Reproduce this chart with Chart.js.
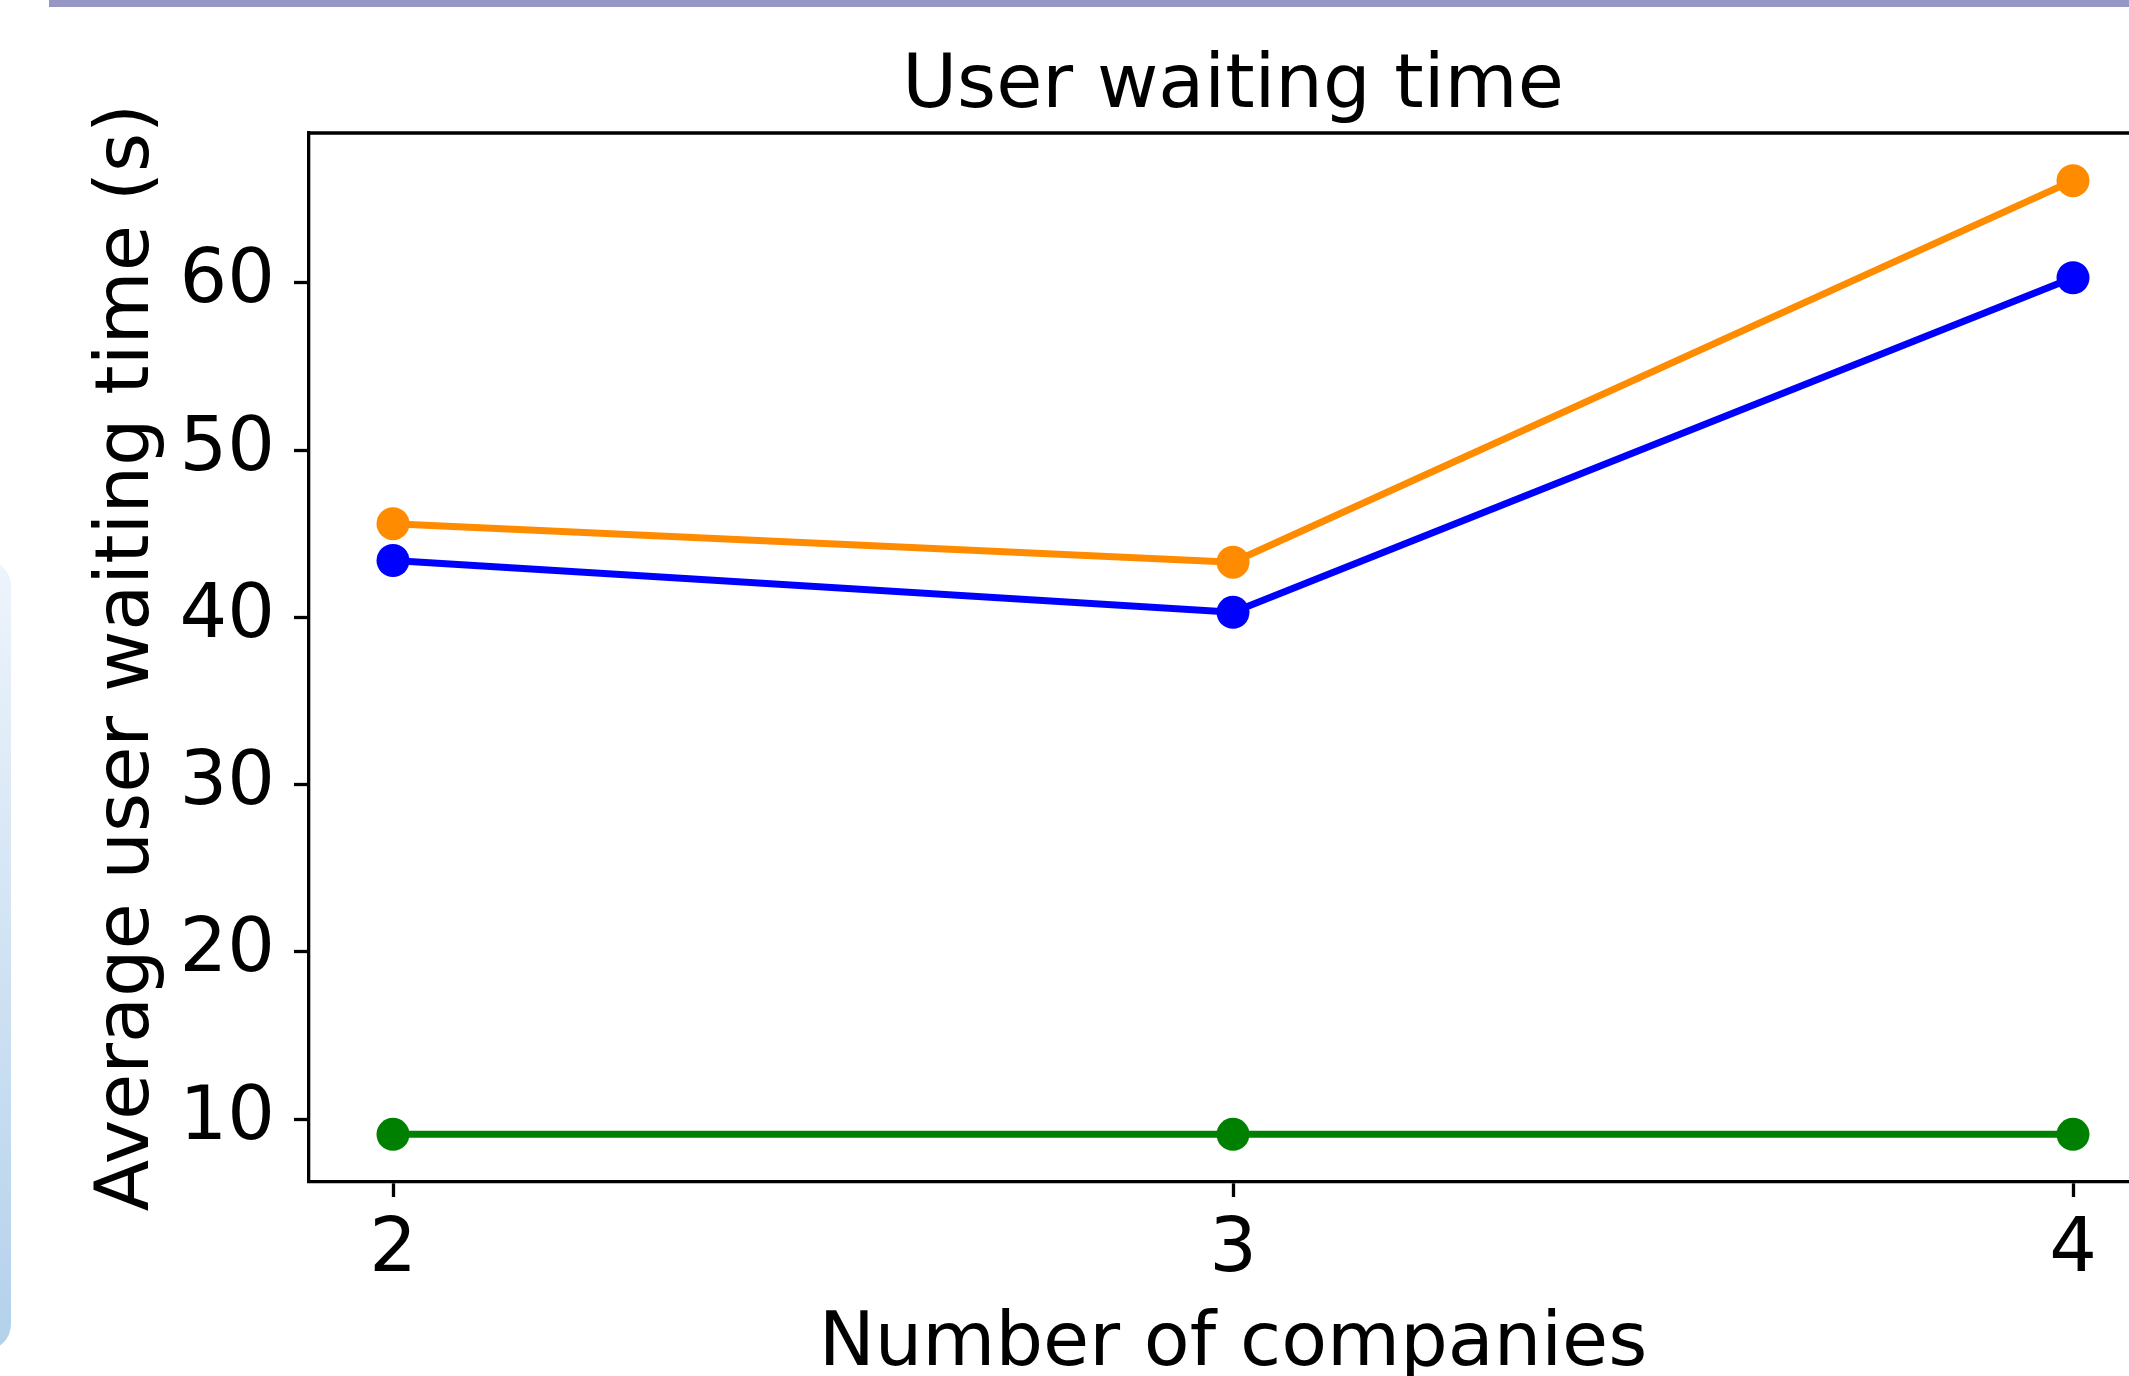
<!DOCTYPE html>
<html>
<head>
<meta charset="utf-8">
<title>User waiting time</title>
<script src="https://cdn.jsdelivr.net/npm/chart.js@4.4.1/dist/chart.umd.min.js"></script>
<style>
    html, body {
        margin: 0;
        padding: 0;
        background: #ffffff;
        overflow: hidden;
        width: 2129px;
        height: 1376px;
    }
    #wrap {
        position: absolute;
        left: 0;
        top: 0;
        width: 2200px;
        height: 1376px;
    }
    #top-bar {
        position: absolute;
        left: 49px;
        top: 0;
        width: 2100px;
        height: 7px;
        background: #9797c5;
    }
    #side-panel {
        position: absolute;
        left: -40px;
        top: 560px;
        width: 51px;
        height: 790px;
        border-radius: 28px;
        background: linear-gradient(#eef4fb, #b3d1eb);
    }
</style>
</head>
<body>
<div id="wrap">
    <canvas id="chart" width="2200" height="1376"></canvas>
</div>
<div id="top-bar"></div>
<div id="side-panel"></div>
<script>
const companies = [2, 3, 4];
const orangeWait = [45.6, 43.3, 66.1];
const blueWait = [43.4, 40.3, 60.3];
const greenWait = [9.1, 9.1, 9.1];
const xTickValues = [2, 3, 4];
const yTickValues = [10, 20, 30, 40, 50, 60];

document.addEventListener('DOMContentLoaded', () => {
    const ctx = document.getElementById('chart').getContext('2d');
    const font = 'DejaVu Sans';

    // matplotlib style 5% margins around the data
    const allY = orangeWait.concat(blueWait, greenWait);
    const yLo = Math.min(...allY);
    const yHi = Math.max(...allY);
    const yPad = (yHi - yLo) * 0.05;
    const xLo = Math.min(...companies);
    const xHi = Math.max(...companies);
    const xPad = (xHi - xLo) * 0.05;

    const toPoints = values => values.map((v, i) => ({ x: companies[i], y: v }));

    function makeSet(label, values, color, order) {
        return {
            label: label,
            data: toPoints(values),
            borderColor: color,
            backgroundColor: color,
            borderWidth: 7,
            pointRadius: 16.5,
            pointBorderWidth: 0,
            pointBackgroundColor: color,
            tension: 0,
            order: order
        };
    }

    // top spine of the axes box
    const frame = {
        id: 'frame',
        afterDraw(chart) {
            const a = chart.chartArea;
            const c = chart.ctx;
            c.save();
            c.strokeStyle = '#000000';
            c.lineWidth = 3.3;
            c.beginPath();
            c.moveTo(a.left - 1.6, a.top);
            c.lineTo(a.right + 1.6, a.top);
            c.lineTo(a.right + 1.6, a.bottom);
            c.stroke();
            c.restore();
        }
    };

    new Chart(ctx, {
        type: 'line',
        data: {
            datasets: [
                makeSet('Orange', orangeWait, '#ff8c00', 1),
                makeSet('Blue', blueWait, '#0000ff', 0),
                makeSet('Green', greenWait, '#008000', 2)
            ]
        },
        plugins: [frame],
        options: {
            responsive: false,
            animation: false,
            layout: {
                padding: { left: 0, right: 43, top: 0, bottom: 0 }
            },
            plugins: {
                legend: { display: false },
                tooltip: { enabled: false },
                title: {
                    display: true,
                    text: 'User waiting time',
                    color: '#000000',
                    fullSize: false,
                    font: { family: font, size: 75, weight: 'normal', lineHeight: 1.2 },
                    padding: { top: 43, bottom: 0 }
                }
            },
            scales: {
                x: {
                    type: 'linear',
                    position: 'bottom',
                    min: xLo - xPad,
                    max: xHi + xPad,
                    afterBuildTicks: scale => {
                        scale.ticks = xTickValues.map(v => ({ value: v }));
                    },
                    afterFit: scale => {
                        scale.height = 194;
                    },
                    grid: {
                        drawOnChartArea: false,
                        drawTicks: true,
                        tickLength: 15,
                        tickWidth: 3.3,
                        tickColor: '#000000'
                    },
                    border: { display: true, color: '#000000', width: 3.3 },
                    ticks: {
                        color: '#000000',
                        padding: 10,
                        maxRotation: 0,
                        font: { family: font, size: 75 },
                        callback: v => String(v)
                    },
                    title: {
                        display: true,
                        text: 'Number of companies',
                        color: '#000000',
                        font: { family: font, size: 75, lineHeight: 0.8 },
                        padding: { top: 0, bottom: 0 }
                    }
                },
                y: {
                    type: 'linear',
                    position: 'left',
                    min: yLo - yPad,
                    max: yHi + yPad,
                    afterBuildTicks: scale => {
                        scale.ticks = yTickValues.map(v => ({ value: v }));
                    },
                    afterFit: scale => {
                        scale.width = 309;
                    },
                    grid: {
                        drawOnChartArea: false,
                        drawTicks: true,
                        tickLength: 15,
                        tickWidth: 3.3,
                        tickColor: '#000000'
                    },
                    border: { display: true, color: '#000000', width: 3.3 },
                    ticks: {
                        color: '#000000',
                        padding: 19,
                        font: { family: font, size: 75 },
                        callback: v => String(v)
                    },
                    title: {
                        display: true,
                        text: 'Average user waiting time (s)',
                        color: '#000000',
                        font: { family: font, size: 75, lineHeight: 1.2 },
                        padding: { top: 84, bottom: 0 }
                    }
                }
            }
        }
    });
});
</script>
</body>
</html>
